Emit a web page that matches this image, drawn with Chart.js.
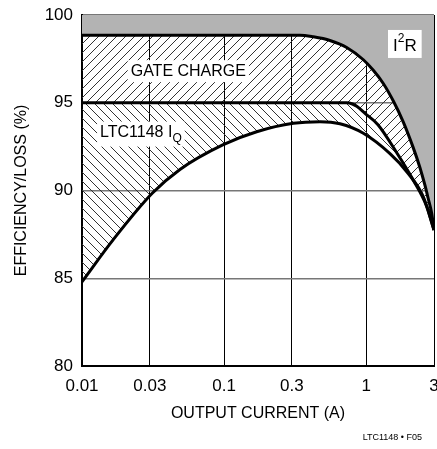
<!DOCTYPE html>
<html>
<head>
<meta charset="utf-8">
<title>Efficiency / Loss</title>
<style>
  html, body { margin: 0; padding: 0; background: #fff; }
  #wrap { width: 437px; height: 449px; }
</style>
</head>
<body>
<div id="wrap"><canvas id="chart" width="437" height="449"></canvas></div>
<script src="https://cdn.jsdelivr.net/npm/chart.js@4.4.1/dist/chart.umd.min.js"></script>
<script>
  // axis ticks
  var xTicks = [0.01, 0.03, 0.1, 0.3, 1, 3];
  var yTicks = [80, 85, 90, 95, 100];

  // upper curve (efficiency without I2R loss)
  var topCurrent = [0.01, 0.342, 0.423, 0.556, 0.729, 0.955, 1.122, 1.319, 1.552, 1.825, 2.13, 2.39, 2.59, 2.72, 2.89, 3.0];
  var topEff     = [98.85, 98.85, 98.76, 98.55, 98.15, 97.45, 96.85, 96.1, 95.1, 93.9, 92.5, 91.3, 90.3, 89.6, 88.7, 87.75];

  // middle curve (minus gate charge loss)
  var midCurrent = [0.01, 0.3, 0.729, 0.8, 0.858, 0.981, 1.21, 1.64, 2.14, 2.67, 3.0];
  var midEff     = [95.0, 95.0, 95.0, 94.93, 94.8, 94.4, 93.75, 92.15, 90.6, 89.08, 87.75];

  // measured efficiency (minus LTC1148 IQ)
  var effCurrent = [0.01, 0.0166, 0.0312, 0.0489, 0.0978, 0.1695, 0.307, 0.473, 0.654, 0.955, 1.47, 1.93, 2.52, 3.0];
  var effValue   = [84.8, 87.2, 89.84, 91.2, 92.6, 93.35, 93.83, 93.92, 93.8, 93.26, 92.1, 91.07, 89.65, 87.75];

  var FONT = "'Liberation Sans Narrow', 'Arial Narrow', 'Liberation Sans', Arial, sans-serif";

  function toPoints(xs, ys) {
    return xs.map(function (v, i) { return { x: v, y: ys[i] }; });
  }

  var ctx = document.getElementById('chart').getContext('2d');

  // diagonal hatch pattern, dir 1 = "/", -1 = "\"
  function hatch(dir) {
    var s = 9;
    var c = document.createElement('canvas');
    c.width = s; c.height = s;
    var g = c.getContext('2d');
    g.strokeStyle = '#333';
    g.lineWidth = 1;
    g.beginPath();
    if (dir > 0) {
      g.moveTo(0, s); g.lineTo(s, 0);
      g.moveTo(-1, 1); g.lineTo(1, -1);
      g.moveTo(s - 1, s + 1); g.lineTo(s + 1, s - 1);
    } else {
      g.moveTo(0, 0); g.lineTo(s, s);
      g.moveTo(s - 1, -1); g.lineTo(s + 1, 1);
      g.moveTo(-1, s - 1); g.lineTo(1, s + 1);
    }
    g.stroke();
    return ctx.createPattern(c, 'repeat');
  }

  // text labels inside the plot
  var labelsPlugin = {
    id: 'labels',
    afterDraw: function (chart) {
      var c = chart.ctx, xs = chart.scales.x, ys = chart.scales.y;
      c.save();
      c.textBaseline = 'middle';

      // GATE CHARGE
      c.font = '16px ' + FONT;
      var px = xs.getPixelForValue(0.056), py = ys.getPixelForValue(96.8);
      var w = c.measureText('GATE CHARGE').width;
      c.fillStyle = '#fff';
      c.fillRect(px - w / 2 - 3, py - 11, w + 6, 22);
      c.fillStyle = '#000';
      c.textAlign = 'center';
      c.fillText('GATE CHARGE', px, py);

      // LTC1148 IQ
      c.textAlign = 'left';
      px = xs.getPixelForValue(0.0134); py = ys.getPixelForValue(93.3);
      w = c.measureText('LTC1148 I').width;
      c.font = '12px ' + FONT;
      var wq = c.measureText('Q').width;
      c.fillStyle = '#fff';
      c.fillRect(px - 3, py - 11, w + wq + 6, 25);
      c.fillStyle = '#000';
      c.font = '16px ' + FONT;
      c.fillText('LTC1148 I', px, py);
      c.font = '12px ' + FONT;
      c.fillText('Q', px + w, py + 6);

      // I2R
      px = xs.getPixelForValue(1.87); py = ys.getPixelForValue(98.35);
      c.font = '17px ' + FONT;
      var wi = c.measureText('I').width, wr = c.measureText('R').width;
      c.font = '12px ' + FONT;
      var w2 = c.measureText('2').width;
      var tot = wi + w2 + wr;
      var sx = px - tot / 2;
      c.fillStyle = '#fff';
      c.fillRect(sx - 5, py - 14, tot + 10, 28);
      c.fillStyle = '#000';
      c.font = '17px ' + FONT;
      c.fillText('I', sx, py + 2);
      c.fillText('R', sx + wi + w2, py + 2);
      c.font = '12px ' + FONT;
      c.fillText('2', sx + wi, py - 5);

      // figure tag
      c.font = '9px ' + FONT;
      c.textAlign = 'right';
      c.fillText('LTC1148 \u2022 F05', chart.width - 15, chart.height - 11);
      c.restore();
    }
  };

  var lineStyle = {
    borderColor: '#000',
    borderWidth: 3,
    pointRadius: 0,
    cubicInterpolationMode: 'monotone'
  };

  var chart = new Chart(ctx, {
    type: 'line',
    data: {
      datasets: [
        Object.assign({ label: 'I2R', data: toPoints(topCurrent, topEff), fill: 'end', backgroundColor: '#b3b3b3' }, lineStyle),
        Object.assign({ label: 'Gate charge', data: toPoints(midCurrent, midEff), fill: '-1', backgroundColor: hatch(1) }, lineStyle),
        Object.assign({ label: 'LTC1148 IQ', data: toPoints(effCurrent, effValue), fill: '-1', backgroundColor: hatch(-1) }, lineStyle)
      ]
    },
    options: {
      responsive: false,
      animation: false,
      devicePixelRatio: 1,
      layout: { padding: { top: 15, right: 3, left: 0, bottom: 26 } },
      plugins: {
        legend: { display: false },
        tooltip: { enabled: false }
      },
      scales: {
        x: {
          type: 'logarithmic',
          min: 0.01,
          max: 3,
          z: 1,
          afterBuildTicks: function (s) { s.ticks = xTicks.map(function (v) { return { value: v }; }); },
          afterFit: function (s) { s.height = 57; s.paddingLeft = 0; s.paddingRight = 0; },
          ticks: {
            autoSkip: false,
            maxRotation: 0,
            padding: 10,
            color: '#000',
            font: { family: FONT, size: 17 },
            callback: function (v) { return String(v); }
          },
          grid: { color: '#000', lineWidth: 1, drawTicks: false },
          border: { display: true, color: '#000', width: 2 },
          title: {
            display: true,
            text: 'OUTPUT CURRENT (A)',
            color: '#000',
            font: { family: FONT, size: 16 },
            padding: { top: 5, bottom: 0 }
          }
        },
        y: {
          min: 80,
          max: 100,
          z: 1,
          afterBuildTicks: function (s) { s.ticks = yTicks.map(function (v) { return { value: v }; }); },
          afterFit: function (s) { s.width = 82; s.paddingTop = 0; s.paddingBottom = 0; },
          ticks: {
            padding: 9,
            color: '#000',
            font: { family: FONT, size: 17 }
          },
          grid: { color: '#777', lineWidth: 1.5, drawTicks: false },
          border: { display: true, color: '#000', width: 2 },
          title: {
            display: true,
            text: 'EFFICIENCY/LOSS (%)',
            color: '#000',
            font: { family: FONT, size: 16 },
            padding: { top: 12, bottom: 0 }
          }
        }
      }
    },
    plugins: [labelsPlugin]
  });
</script>
</body>
</html>
